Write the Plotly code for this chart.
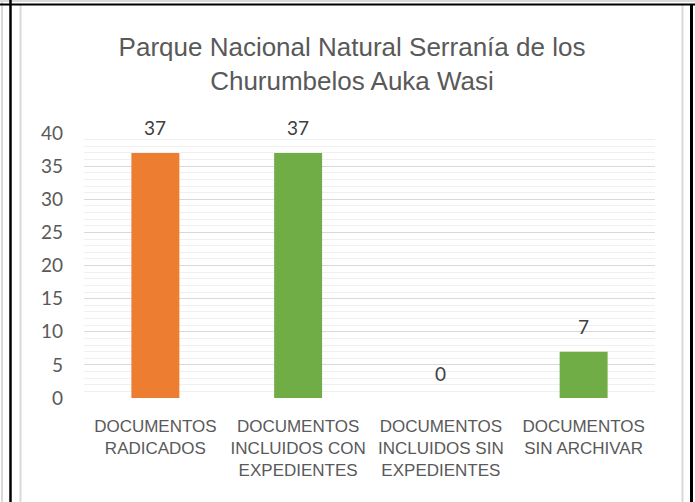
import plotly.graph_objects as go

categories = ["DOCUMENTOS<br>RADICADOS", "DOCUMENTOS<br>INCLUIDOS CON<br>EXPEDIENTES",
              "DOCUMENTOS<br>INCLUIDOS SIN<br>EXPEDIENTES", "DOCUMENTOS<br>SIN ARCHIVAR"]
values = [37, 37, 0, 7]
bar_colors = ["#ED7D31", "#70AD47", "#70AD47", "#70AD47"]
y_ticks = [0, 5, 10, 15, 20, 25, 30, 35, 40]
title_text = "Parque Nacional Natural Serranía de los<br>Churumbelos Auka Wasi"

W, H = 695, 502
ML, MR, MT, MB = 84, 40, 133, 104
PW, PH = W - ML - MR, H - MT - MB


def px_x(px):
    return (px - ML) / PW


def px_y(py):
    return (H - MB - py) / PH


fig = go.Figure()
fig.add_trace(go.Bar(
    x=categories, y=values, marker=dict(color=bar_colors, line=dict(width=0)),
    hoverinfo="x+y", showlegend=False,
))

for c, v in zip(categories, values):
    fig.add_annotation(x=c, y=v, text=str(v), showarrow=False, yshift=25,
                       xanchor="center", yanchor="middle",
                       font=dict(family="Lato, Liberation Sans, sans-serif", size=19, color="#404040"))

gray = "#D9D9D9"
shapes = []
# outer light grey lines
shapes.append(dict(type="line", xref="paper", yref="paper", x0=px_x(2), x1=px_x(2), y0=px_y(0), y1=px_y(H),
                   line=dict(color=gray, width=2)))
shapes.append(dict(type="line", xref="paper", yref="paper", x0=px_x(0), x1=px_x(W), y0=px_y(1), y1=px_y(1),
                   line=dict(color=gray, width=2)))
# chart box
shapes.append(dict(type="line", xref="paper", yref="paper", x0=px_x(20.5), x1=px_x(20.5), y0=px_y(5), y1=px_y(H),
                   line=dict(color=gray, width=2)))
shapes.append(dict(type="line", xref="paper", yref="paper", x0=px_x(682.5), x1=px_x(682.5), y0=px_y(5), y1=px_y(H),
                   line=dict(color=gray, width=2)))
# black lines
shapes.append(dict(type="line", xref="paper", yref="paper", x0=px_x(10.5), x1=px_x(10.5), y0=px_y(0), y1=px_y(H),
                   line=dict(color="black", width=2.5)))
shapes.append(dict(type="line", xref="paper", yref="paper", x0=px_x(0), x1=px_x(W), y0=px_y(4.5), y1=px_y(4.5),
                   line=dict(color="black", width=2)))
shapes.append(dict(type="line", xref="paper", yref="paper", x0=px_x(691.5), x1=px_x(691.5), y0=px_y(4), y1=px_y(H),
                   line=dict(color="black", width=3)))

fig.update_layout(
    width=W, height=H,
    margin=dict(l=ML, r=MR, t=MT, b=MB, pad=0),
    paper_bgcolor="white", plot_bgcolor="white",
    bargap=0.664,
    shapes=shapes,
    title=dict(text=title_text, x=352 / W, xanchor="center", xref="container",
               y=1 - 56 / H, yanchor="top", yref="container",
               font=dict(family="Liberation Sans, Arial, sans-serif", size=26, color="#595959")),
    xaxis=dict(showgrid=False, zeroline=False, showline=False, ticks="",
               tickfont=dict(family="Liberation Sans, Arial, sans-serif", size=17, color="#595959"),
               ticklabelstandoff=16, fixedrange=True),
    yaxis=dict(range=[0, 40], tickvals=y_ticks, showgrid=True, gridcolor=gray, gridwidth=1,
               zeroline=False, showline=False, ticks="",
               minor=dict(dtick=1, showgrid=True, gridcolor="#F0F0F0", gridwidth=1),
               tickfont=dict(family="Lato, Liberation Sans, sans-serif", size=19, color="#595959"),
               ticklabelstandoff=20, fixedrange=True),
)

fig.write_html("out.html", config={"displayModeBar": False},
               post_script="document.body.style.margin='0';document.body.style.overflow='hidden';")
